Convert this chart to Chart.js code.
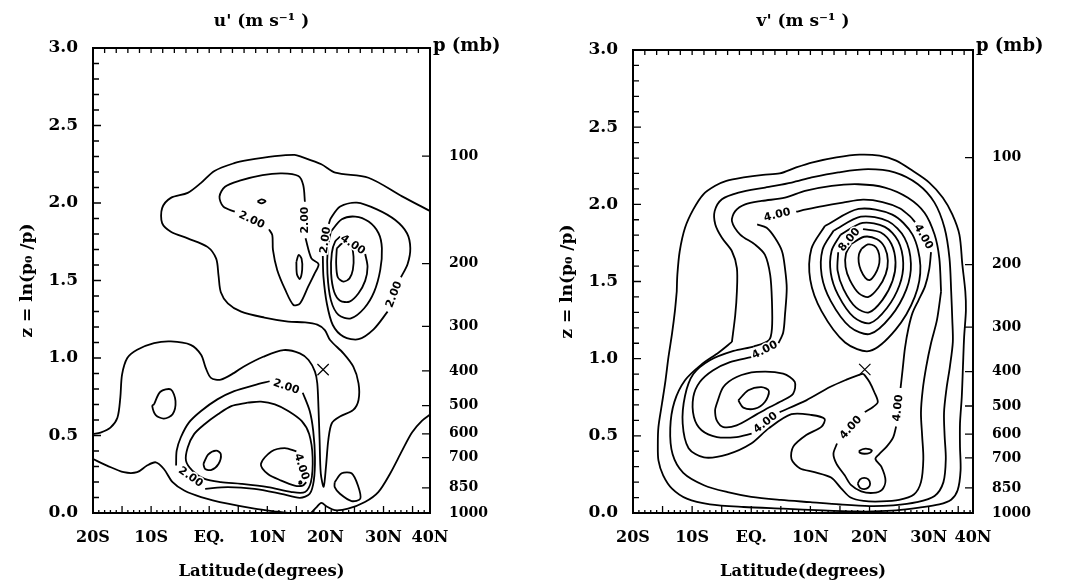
<!DOCTYPE html>
<html>
<head>
<meta charset="utf-8">
<script src="https://cdn.jsdelivr.net/npm/chart.js@4/dist/chart.umd.min.js"></script>
<style>
  html, body { margin: 0; padding: 0; background: #fff; }
  #wrap { position: relative; width: 1067px; height: 583px; }
  canvas { position: absolute; top: 0; }
</style>
</head>
<body>
<div id="wrap">
  <canvas id="uChart" width="533" height="583" style="left:0"></canvas>
  <canvas id="vChart" width="534" height="583" style="left:533px"></canvas>
</div>
<script>
// axis labels
const latTicks = [-20, -10, 0, 10, 20, 30, 40];
const latLabels = ["20S", "10S", "EQ.", "10N", "20N", "30N", "40N"];
const pLevels = [100, 200, 300, 400, 500, 600, 700, 850, 1000];

// ---- u' contours: [latitude, z] ----
const uC1 = [[38.1,1.946],[33.2,2.043],[27.4,2.163],[21.7,2.196],[19.3,2.25],[15.9,2.298],[14.7,2.311],[11.3,2.302],[6.6,2.276],[4.3,2.257],[0.9,2.207],[-1.4,2.13],[-3.7,2.065],[-6.6,2.033],[-8.1,1.967],[-8.1,1.87],[-6.6,1.815],[-3.7,1.772],[-0.3,1.717],[1.2,1.641],[1.6,1.533],[2.0,1.424],[3.2,1.353],[5.5,1.299],[9.5,1.261],[13.6,1.235],[16.5,1.23],[18.6,1.215],[19.9,1.18],[20.8,1.116],[23.1,1.03],[24.8,0.944],[25.7,0.837],[25.7,0.729],[24.8,0.665],[22.5,0.622],[21.1,0.579],[20.5,0.471],[20.1,0.3],[19.7,0.17],[19.2,0.256],[19.0,0.471],[18.8,0.686],[18.6,0.837],[18.2,0.912],[17.1,0.987],[15.6,1.03],[12.8,1.051],[9.3,1.008],[5.9,0.944],[4.3,0.904],[2.0,0.861],[0.3,0.872],[-0.6,0.936],[-1.4,1.021],[-3.2,1.085],[-6.6,1.107],[-9.5,1.096],[-12.4,1.053],[-14.1,1.0],[-15.0,0.893],[-15.3,0.744],[-15.8,0.615],[-17.0,0.551],[-18.7,0.519],[-20,0.509]];
const uC1b = [[38.1,0.637],[36.6,0.594],[34.9,0.519],[33.2,0.402],[31.1,0.252],[29.1,0.135],[26.8,0.071],[23.9,0.028],[21.6,0.018],[20.3,0.04],[19.3,0.065],[18.4,0.035],[17.5,0]];
const uC1c = [[-20,0.348],[-17.6,0.306],[-14.7,0.263],[-12.4,0.263],[-10.7,0.306],[-9.2,0.327],[-7.8,0.284],[-6.3,0.199],[-4.3,0.145],[-1.4,0.103],[3.2,0.06],[7.8,0.028],[11.8,0.008],[13.6,0]];
const uC1d = [[-9.5,0.701],[-8.4,0.782],[-6.6,0.797],[-5.8,0.722],[-6.3,0.637],[-7.8,0.609],[-9.2,0.632],[-9.8,0.69],[-9.5,0.701]];
const uC1e = [[21.6,0.199],[22.8,0.256],[24.5,0.256],[25.6,0.177],[26.0,0.092],[24.5,0.077],[22.5,0.124],[21.6,0.167],[21.6,0.199]];
const uC2a = [[4.4,1.944],[2.44,1.976],[1.77,2.041],[2.72,2.105],[5.25,2.144],[9.17,2.18],[12.54,2.191],[15.34,2.174],[16.18,2.116],[16.47,2.008]];
const uC2b = [[16.58,1.772],[17.59,1.643],[18.82,1.606],[18.15,1.546],[17.03,1.46],[15.62,1.352],[14.5,1.342],[13.1,1.439],[11.7,1.568],[10.97,1.697],[10.86,1.793],[10.29,1.83]];
const uC2c = [[19.55,1.658],[19.66,1.525],[20.24,1.353],[21.27,1.213],[23.11,1.138],[25.7,1.121],[28.29,1.185],[30.7,1.299]];
const uC2d = [[33.0,1.521],[34.15,1.607],[34.61,1.708],[34.04,1.805],[32.02,1.89],[28.86,1.959],[25.41,2.002],[22.54,1.977],[20.93,1.901],[20.58,1.865]];
const uC2e = [[10.4,0.85],[7.8,0.825],[4.3,0.786],[1.4,0.733],[-1.4,0.658],[-3.5,0.583],[-4.9,0.487],[-5.6,0.402],[-5.7,0.306]];
const uC2f = [[-0.7,0.156],[3.2,0.167],[7.8,0.156],[12.4,0.124],[15.6,0.098],[17.3,0.124],[18.0,0.209],[18.2,0.359],[17.9,0.53],[17.3,0.658],[16.1,0.776]];
const uC2g = [[8.3,2.01],[9.0,2.024],[9.7,2.012],[9.0,1.998],[8.3,2.01]];
const uC2h = [[15.0,1.62],[15.4,1.665],[15.9,1.64],[16.0,1.57],[15.6,1.51],[15.1,1.54],[15.0,1.62]];
const uC3a = [[20.93,1.815],[22.82,1.895],[25.13,1.912],[27.43,1.88],[29.15,1.805],[29.72,1.708],[29.44,1.568],[28.4,1.428],[26.68,1.321],[24.38,1.256],[22.25,1.278],[20.93,1.375],[20.35,1.546],[20.41,1.708],[20.93,1.815]];
const uC3b = [[6.6,0.712],[3.8,0.69],[1.5,0.637],[-0.8,0.573],[-2.6,0.509],[-3.7,0.423],[-4.0,0.338],[-2.9,0.274],[-0.8,0.22],[2.0,0.199],[5.5,0.188],[10.1,0.167],[14.2,0.135],[16.5,0.135],[17.5,0.199],[17.8,0.359],[17.2,0.509],[15.9,0.594],[13.6,0.658],[11.3,0.701],[8.9,0.718],[6.6,0.712]];
const uC4a = [[26.85,1.671],[27.25,1.589],[26.85,1.499],[25.7,1.418],[24.15,1.364],[22.54,1.37],[21.5,1.428],[20.98,1.546],[21.1,1.676],[21.67,1.751],[22.54,1.783]];
const uC4b = [[15.0,0.397],[13.0,0.419],[10.7,0.397],[8.9,0.316],[10.1,0.252],[12.4,0.209],[14.7,0.177],[16.1,0.177],[16.7,0.199]];
const uC4c = [[-1.0,0.316],[-0.2,0.376],[1.2,0.402],[2.0,0.38],[1.6,0.316],[0.4,0.278],[-0.7,0.284],[-1.0,0.316]];
const uC4d = [[15.4,0.195],[15.7,0.205],[15.9,0.195],[15.6,0.188],[15.4,0.195]];
const uC5 = [[21.96,1.708],[23.11,1.744],[24.38,1.729],[24.84,1.654],[24.72,1.568],[24.15,1.514],[23.11,1.493],[22.13,1.521],[21.85,1.611],[21.96,1.708]];
const uLabels = [["2.00",7.3,1.89],["2.00",16.5,1.89],["2.00",20.05,1.76],["4.00",24.7,1.73],["2.00",31.85,1.41],["2.00",13.25,0.813],["2.00",-3.2,0.231],["4.00",15.85,0.298]];
const uLabelAngles = [25, -90, -82, 34, -69, 19, 35, 72];
const uSaddle = [19.6, 0.925];

// ---- v' contours: [latitude, z] ----
const vC1 = [[-12.6,1.435],[-12.9,1.313],[-13.4,1.162],[-14.0,1.011],[-14.5,0.86],[-15.1,0.708],[-15.7,0.557],[-15.8,0.449],[-15.7,0.341],[-14.9,0.244],[-13.4,0.158],[-10.9,0.093],[-7.0,0.056],[-1.3,0.039],[5.4,0.028],[12.1,0.017],[17.8,0.01],[20.6,0.01],[24.5,0.017],[28.4,0.035],[31.8,0.056],[33.8,0.086],[34.9,0.147],[35.4,0.276],[35.3,0.428],[35.3,0.579],[35.6,0.752],[35.8,0.946],[36.0,1.14],[36.3,1.313],[36.2,1.435],[35.7,1.609],[35.2,1.804],[34.0,1.935],[32.4,2.043],[30.1,2.141],[27.3,2.217],[24.5,2.283],[21.7,2.315],[18.3,2.322],[14.4,2.304],[10.4,2.272],[7.6,2.239],[4.8,2.2],[2.0,2.191],[-1.3,2.174],[-4.2,2.152],[-6.1,2.12],[-8.1,2.065],[-9.8,1.967],[-11.2,1.848],[-12.1,1.696],[-12.5,1.543],[-12.6,1.435]];
const vC2 = [[-3.27,1.109],[-2.71,1.283],[-2.43,1.435],[-2.43,1.587],[-3.27,1.696],[-4.96,1.783],[-6.08,1.87],[-6.19,1.956],[-4.96,2.033],[-2.15,2.076],[2.35,2.109],[6.84,2.141],[10.21,2.174],[14.7,2.207],[19.76,2.228],[24.25,2.207],[28.19,2.13],[30.99,2.011],[32.68,1.848],[33.52,1.652],[33.81,1.435],[34.0,1.25],[34.09,1.109],[33.6,0.95],[33.0,0.8],[32.6,0.65],[32.7,0.5],[32.9,0.35],[32.5,0.2],[31.0,0.11],[28,0.07],[24,0.05],[20,0.045],[15,0.055],[10,0.07],[5,0.085],[0,0.105],[-4,0.135],[-8,0.18],[-11.5,0.26],[-13.3,0.38],[-13.7,0.55],[-13.0,0.72],[-11.2,0.86],[-8.5,0.96],[-5.5,1.04],[-3.27,1.109]];
const vC3 = [[32.1,1.435],[31.4,1.25],[30.4,1.1],[29.6,0.95],[29.0,0.8],[28.7,0.65],[28.9,0.5],[29.1,0.35],[28.7,0.2],[27.5,0.12],[25,0.085],[22,0.075],[19,0.078],[16.8,0.1],[15.2,0.16],[13.5,0.23],[10.7,0.265],[8.2,0.29],[6.8,0.35],[7.1,0.43],[9.3,0.505],[11.9,0.56],[12.4,0.61],[10.2,0.635],[6.8,0.64],[3,0.55],[0,0.45],[-4,0.38],[-8,0.36],[-10.6,0.42],[-11.6,0.58],[-11.2,0.76],[-9.8,0.9],[-7,0.99],[-3,1.05],[0.5,1.08],[3.0,1.12],[3.5,1.196],[3.5,1.37],[3.2,1.543],[2.3,1.674],[0.66,1.739],[-1.87,1.804],[-3.27,1.891],[-2.71,1.956],[-1.03,2.0],[1.78,2.022],[5.7,2.043],[9.1,2.087],[13.6,2.12],[18.1,2.13],[22.6,2.109],[26.5,2.043],[29.3,1.946],[31.0,1.804],[31.8,1.652],[32.1,1.435]];
const vC4a = [[7.6,1.952],[9.3,1.967],[12.1,1.989],[15.5,2.011],[18.9,2.03],[22.2,2.015],[25.1,1.975],[26.9,1.92],[27.7,1.885]];
const vC4b = [[30.4,1.69],[30.1,1.58],[29.4,1.47],[28.3,1.38],[27.3,1.3],[26.6,1.2],[26.0,1.07],[25.6,0.93],[25.25,0.81]];
const vC4c = [[24.5,0.56],[24.0,0.49],[22.9,0.43],[21.6,0.38],[21.0,0.35],[22.0,0.3],[22.7,0.21],[22.1,0.15],[20.6,0.13],[18.6,0.14],[16.9,0.18],[15.8,0.244],[14.4,0.32],[13.9,0.384],[14.5,0.45]];
const vC4d = [[19.2,0.654],[20.6,0.687],[21.4,0.719],[20.8,0.784],[20.0,0.849],[19.2,0.892],[18.9,0.903]];
const vC4e = [[1.0,1.87],[2.6,1.848],[4.0,1.783],[5.2,1.696],[5.7,1.587],[6.0,1.456],[5.7,1.283],[5.4,1.17],[4.6,1.1]];
const vC4f = [[0.0,1.01],[-3.6,0.978],[-6.5,0.924],[-8.7,0.849],[-9.8,0.752],[-9.7,0.622],[-8.4,0.536],[-5.8,0.492],[-2.5,0.492],[0.06,0.514]];
const vC4g = [[4.8,0.654],[9.3,0.73],[13.3,0.816],[16.1,0.864],[18.0,0.892],[18.9,0.903]];
const vC5s = [[-5.84,0.708],[-4.72,0.816],[-2.47,0.881],[0.9,0.914],[5.39,0.903],[7.36,0.849],[7.08,0.773],[5.39,0.73],[3.15,0.687],[0.9,0.639],[-2.47,0.568],[-4.72,0.557],[-5.84,0.6],[-6.12,0.665],[-5.84,0.708]];
const vC6s = [[-2.19,0.73],[-0.5,0.795],[1.74,0.816],[2.98,0.79],[2.3,0.719],[0.62,0.676],[-1.35,0.683],[-2.19,0.73]];
const vC5 = [[12.45,1.86],[18.15,1.97],[23.85,1.933],[27.27,1.804],[28.6,1.602],[27.65,1.4],[24.42,1.188],[20.05,1.05],[15.87,1.105],[11.88,1.308],[9.98,1.51],[10.17,1.712],[12.45,1.86]];
const vC6 = [[13.91,1.829],[18.53,1.92],[23.15,1.89],[25.92,1.783],[27.0,1.616],[26.23,1.449],[23.61,1.274],[20.07,1.16],[16.68,1.206],[13.45,1.373],[11.91,1.54],[12.06,1.707],[13.91,1.829]];
const vC7 = [[15.08,1.802],[18.83,1.88],[22.58,1.854],[24.83,1.763],[25.7,1.62],[25.08,1.477],[22.95,1.328],[20.08,1.23],[17.33,1.269],[14.7,1.412],[13.45,1.555],[13.58,1.698],[15.08,1.802]];
const vC8 = [[18.9,1.84],[21.9,1.818],[23.7,1.743],[24.4,1.624],[23.9,1.505],[22.2,1.381],[19.9,1.3],[17.7,1.332],[15.6,1.451],[14.6,1.57],[14.7,1.689]];
const vC9 = [[16.9,1.743],[19.09,1.79],[21.28,1.774],[22.59,1.72],[23.1,1.634],[22.74,1.548],[21.49,1.459],[19.82,1.4],[18.21,1.423],[16.68,1.509],[15.95,1.595],[16.02,1.681],[16.9,1.743]];
const vC10 = [[18.64,1.712],[19.72,1.74],[20.8,1.731],[21.45,1.699],[21.7,1.648],[21.52,1.597],[20.91,1.545],[20.08,1.51],[19.29,1.524],[18.53,1.574],[18.17,1.625],[18.21,1.676],[18.64,1.712]];
const vSmallA = [[18.2,0.4],[18.8,0.413],[19.6,0.416],[20.4,0.405],[20.0,0.389],[19.1,0.384],[18.4,0.39],[18.2,0.4]];
const vSmallB = [[18.0,0.19],[18.4,0.218],[19.1,0.228],[19.8,0.218],[20.1,0.19],[19.8,0.165],[19.1,0.155],[18.4,0.163],[18.0,0.19]];
const vLabels = [["4.00",4.4,1.93],["4.00",29.1,1.79],["8.00",16.6,1.77],["4.00",2.3,1.055],["4.00",2.43,0.584],["4.00",16.85,0.552],["4.00",24.85,0.68]];
const vLabelAngles = [-14, 60, -50, -27, -38, -48, -84];
const vSaddle = [19.2, 0.93];

const uLines = [uC1, uC1b, uC1c, uC1d, uC1e, uC2a, uC2b, uC2c, uC2d, uC2e, uC2f, uC2g, uC2h, uC3a, uC3b, uC4a, uC4b, uC4c, uC4d, uC5];
const vLines = [vC1, vC2, vC3, vC4a, vC4b, vC4c, vC4d, vC4e, vC4f, vC4g, vC5s, vC6s, vC5, vC6, vC7, vC8, vC9, vC10, vSmallA, vSmallB];

const serif = "'DejaVu Serif', serif";

function lineSet(pts) {
  return {
    data: pts.map(p => ({ x: p[0], y: p[1] })),
    showLine: true,
    pointRadius: 0,
    borderColor: "#000",
    borderWidth: 1.8,
    tension: 0.3,
    fill: false,
  };
}

function saddleSet(pt) {
  return {
    data: [{ x: pt[0], y: pt[1] }],
    showLine: false,
    pointStyle: "crossRot",
    pointRadius: 8,
    borderColor: "#000",
    borderWidth: 1.2,
  };
}

// frame, inward ticks, contour labels and header text
function overlay(title, labels, angles) {
  return {
    id: "overlay",
    afterDatasetsDraw(chart) {
      const { ctx, chartArea: a, scales } = chart;
      const x = scales.x, y = scales.y, p = scales.p;
      ctx.save();
      ctx.strokeStyle = "#000";
      ctx.lineWidth = 2;
      ctx.strokeRect(a.left, a.top, a.right - a.left, a.bottom - a.top);

      ctx.lineWidth = 1.3;
      ctx.beginPath();
      for (let i = 1; i < 30; i++) {
        const py = y.getPixelForValue(i / 10);
        ctx.moveTo(a.left, py);
        ctx.lineTo(a.left + (i % 5 ? 6 : 8), py);
      }
      for (let lat = -18; lat < x.max; lat += 2) {
        const px = x.getPixelForValue(lat);
        ctx.moveTo(px, a.top);
        ctx.lineTo(px, a.top + 5);
      }
      for (let lat = -19; lat < x.max; lat += 1) {
        const px = x.getPixelForValue(lat);
        ctx.moveTo(px, a.bottom);
        ctx.lineTo(px, a.bottom - ((lat + 20) % 5 ? 3 : 7));
      }
      p.ticks.forEach(t => {
        const py = p.getPixelForValue(t.value);
        ctx.moveTo(a.right, py);
        ctx.lineTo(a.right - 8, py);
      });
      ctx.stroke();

      // contour labels
      ctx.font = "bold 11px 'DejaVu Sans', sans-serif";
      ctx.textAlign = "center";
      ctx.textBaseline = "middle";
      labels.forEach((l, i) => {
        ctx.save();
        ctx.translate(x.getPixelForValue(l[1]), y.getPixelForValue(l[2]));
        ctx.rotate(angles[i] * Math.PI / 180);
        ctx.lineWidth = 3;
        ctx.strokeStyle = "#fff";
        ctx.strokeText(l[0], 0, 0);
        ctx.fillStyle = "#000";
        ctx.fillText(l[0], 0, 0);
        ctx.restore();
      });

      // titles
      ctx.fillStyle = "#000";
      ctx.font = "bold 17px " + serif;
      ctx.textAlign = "center";
      ctx.fillText(title, (a.left + a.right) / 2, 22);
      ctx.textAlign = "left";
      ctx.font = "bold 18px " + serif;
      ctx.fillText("p (mb)", a.right + 3, 46);
      ctx.restore();
    }
  };
}

function makeChart(id, lines, saddle, cfg) {
  const tickFont = { family: serif, weight: "bold", size: 17 };
  return new Chart(document.getElementById(id), {
    type: "scatter",
    data: { datasets: lines.map(lineSet).concat([saddleSet(saddle)]) },
    options: {
      responsive: false,
      animation: false,
      devicePixelRatio: 1,
      layout: { padding: { top: cfg.top, left: 0, right: 0, bottom: 0 } },
      plugins: { legend: { display: false }, tooltip: { enabled: false } },
      scales: {
        x: {
          type: "linear",
          position: "bottom",
          min: -20,
          max: cfg.latMax,
          afterBuildTicks: s => { s.ticks = latTicks.map(v => ({ value: Math.min(v, s.max) })); },
          afterFit: s => { s.height = 70; },
          ticks: {
            callback: (v, i) => latLabels[i],
            font: { family: serif, weight: "bold", size: 16 },
            color: "#000",
            padding: 15,
            maxRotation: 0,
            autoSkip: false,
          },
          grid: { display: false, drawTicks: false },
          border: { display: false },
          title: {
            display: true,
            text: "Latitude(degrees)",
            font: { family: serif, weight: "bold", size: 16.5 },
            color: "#000",
            padding: { top: 0, bottom: 1 },
          },
        },
        y: {
          type: "linear",
          position: "left",
          min: 0,
          max: 3,
          afterFit: s => { s.width = cfg.left; },
          ticks: {
            stepSize: 0.5,
            callback: v => v.toFixed(1),
            font: tickFont,
            color: "#000",
            padding: 15,
          },
          grid: { display: false, drawTicks: false },
          border: { display: false },
          title: {
            display: true,
            text: "z = ln(p\u2080 /p)",
            font: { family: serif, weight: "bold", size: 17 },
            color: "#000",
            padding: { top: cfg.left - 76, bottom: 0 },
          },
        },
        p: {
          type: "linear",
          position: "right",
          min: 0,
          max: 3,
          afterBuildTicks: s => { s.ticks = pLevels.map(v => ({ value: Math.log(1000 / v) })); },
          afterFit: s => { s.width = cfg.right; },
          ticks: {
            callback: (v, i) => String(pLevels[i]),
            font: { family: serif, weight: "bold", size: 14 },
            color: "#000",
            padding: 19,
            autoSkip: false,
          },
          grid: { display: false, drawTicks: false },
          border: { display: false },
        },
      },
    },
    plugins: [overlay(cfg.title, cfg.labels, cfg.angles)],
  });
}

makeChart("uChart", uLines, uSaddle, {
  title: "u' (m s\u207B\u00B9 )", labels: uLabels, angles: uLabelAngles,
  latMax: 38, top: 48, left: 93, right: 103,
});
makeChart("vChart", vLines, vSaddle, {
  title: "v' (m s\u207B\u00B9 )", labels: vLabels, angles: vLabelAngles,
  latMax: 37.5, top: 50, left: 100, right: 94,
});
</script>
</body>
</html>
